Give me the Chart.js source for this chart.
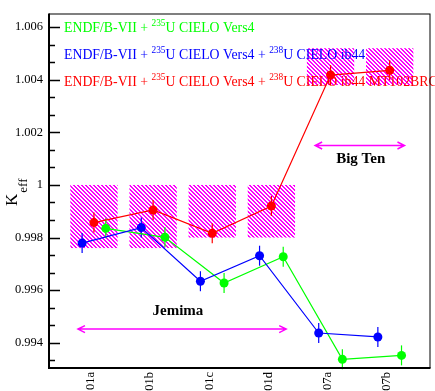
<!DOCTYPE html>
<html>
<head>
<meta charset="utf-8">
<script src="https://cdn.jsdelivr.net/npm/chart.js@4.4.1/dist/chart.umd.min.js"></script>
<style>
  html, body { margin: 0; padding: 0; background: #fff; }
  #keff { display: block; }
</style>
</head>
<body>
<canvas id="keff" width="435" height="391"></canvas>
<script>
// benchmark cases and calculated k-eff for the three libraries
var categories = ['01a', '01b', '01c', '01d', '07a', '07b'];
var keff_blue = [0.99779, 0.99838, 0.99634, 0.99731, 0.99437, 0.99422];
var keff_red = [0.99857, 0.99905, 0.99816, 0.99920, 1.00418, 1.00436];
var keff_green = [0.99835, 0.99801, 0.99627, 0.99727, 0.99337, 0.99352];
var keff_err = [0.00038, 0.00038, 0.00038, 0.00038, 0.00038, 0.00038];

// experimental benchmark bands
var bench_lo = [0.9976, 0.9976, 0.9980, 0.9980, 1.0038, 1.0038];
var bench_hi = [1.0000, 1.0000, 1.0000, 1.0000, 1.0052, 1.0052];

var y_ticks = [0.994, 0.996, 0.998, 1.000, 1.002, 1.004, 1.006];
var y_tick_labels = ['0.994', '0.996', '0.998', '1', '1.002', '1.004', '1.006'];

var legend_green = 'ENDF/B-VII + ^{235}U CIELO Vers4';
var legend_blue = 'ENDF/B-VII + ^{235}U CIELO Vers4 + ^{238}U CIELO ib44';
var legend_red = 'ENDF/B-VII + ^{235}U CIELO Vers4 + ^{238}U CIELO ib44 MT102BRC';

var serif = '"Liberation Serif", "DejaVu Serif", serif';
var clr_blue = '#0000ff';
var clr_red = '#ff0000';
var clr_green = '#00ff00';
var clr_band = '#ff00ff';

// series are drawn side by side around each benchmark slot
var series = [
  { label: legend_blue, data: keff_blue, color: clr_blue, shift: -0.15 },
  { label: legend_red, data: keff_red, color: clr_red, shift: 0.05 },
  { label: legend_green, data: keff_green, color: clr_green, shift: 0.25 }
];

function make_hatch(ctx) {
  var c = document.createElement('canvas');
  c.width = 4;
  c.height = 4;
  var g = c.getContext('2d');
  g.fillStyle = '#fff';
  g.fillRect(0, 0, 4, 4);
  g.fillStyle = clr_band;
  for (var y = 0; y < 4; y++) {
    for (var x = 0; x < 4; x++) {
      if ((((x - y) % 4) + 4) % 4 < 2) g.fillRect(x, y, 1, 1);
    }
  }
  return ctx.createPattern(c, 'repeat');
}

// text with ^{..} superscripts
function draw_rich(ctx, str, x, y, size, color) {
  var parts = str.split(/\^\{([^}]*)\}/);
  ctx.fillStyle = color;
  ctx.textBaseline = 'alphabetic';
  ctx.textAlign = 'left';
  for (var i = 0; i < parts.length; i++) {
    if (!parts[i]) continue;
    if (i % 2 == 1) {
      ctx.font = (size * 0.68) + 'px ' + serif;
      ctx.fillText(parts[i], x, y - size * 0.42);
    } else {
      ctx.font = size + 'px ' + serif;
      ctx.fillText(parts[i], x, y);
    }
    x += ctx.measureText(parts[i]).width;
  }
}

function draw_arrow(ctx, x1, x2, y, color) {
  ctx.save();
  ctx.strokeStyle = color;
  ctx.lineWidth = 1.5;
  ctx.beginPath();
  ctx.moveTo(x1, y);
  ctx.lineTo(x2, y);
  ctx.moveTo(x1 + 7, y - 3.5);
  ctx.lineTo(x1, y);
  ctx.lineTo(x1 + 7, y + 3.5);
  ctx.moveTo(x2 - 7, y - 3.5);
  ctx.lineTo(x2, y);
  ctx.lineTo(x2 - 7, y + 3.5);
  ctx.stroke();
  ctx.restore();
}

var underlay = {
  id: 'underlay',
  beforeDatasetsDraw: function(chart) {
    var ctx = chart.ctx;
    var xs = chart.scales.x;
    var ys = chart.scales.y;
    ctx.save();
    // hatched benchmark bands
    ctx.fillStyle = make_hatch(ctx);
    for (var i = 0; i < categories.length; i++) {
      var x0 = xs.getPixelForValue(i + 1 + 0.05 - 0.4);
      var x1 = xs.getPixelForValue(i + 1 + 0.05 + 0.4);
      var y0 = ys.getPixelForValue(bench_hi[i]);
      var y1 = ys.getPixelForValue(bench_lo[i]);
      ctx.fillRect(x0, y0, x1 - x0, y1 - y0);
    }
    // legend text
    var lx = chart.chartArea.left + 15;
    draw_rich(ctx, legend_green, lx, 32, 13.8, clr_green);
    draw_rich(ctx, legend_blue, lx, 59, 13.8, clr_blue);
    draw_rich(ctx, legend_red, lx, 86, 13.8, clr_red);
    // error bars
    ctx.lineWidth = 1.2;
    series.forEach(function(s) {
      ctx.strokeStyle = s.color;
      s.data.forEach(function(v, i) {
        var px = xs.getPixelForValue(i + 1 + s.shift);
        ctx.beginPath();
        ctx.moveTo(px, ys.getPixelForValue(v - keff_err[i]));
        ctx.lineTo(px, ys.getPixelForValue(v + keff_err[i]));
        ctx.stroke();
      });
    });
    ctx.restore();
  },
  afterDraw: function(chart) {
    var ctx = chart.ctx;
    var a = chart.chartArea;
    var xs = chart.scales.x;
    var ys = chart.scales.y;
    ctx.save();
    // frame
    ctx.strokeStyle = '#000';
    ctx.lineWidth = 1;
    ctx.strokeRect(a.left + 0.5, a.top + 0.5, a.right - a.left - 1, a.bottom - a.top - 1);
    ctx.lineWidth = 2;
    ctx.beginPath();
    ctx.moveTo(a.left, a.top);
    ctx.lineTo(a.left, a.bottom);
    ctx.lineTo(a.right, a.bottom);
    ctx.stroke();
    // inward y ticks, two minor ticks per major step
    var step = y_ticks[1] - y_ticks[0];
    ctx.lineWidth = 1.5;
    ctx.beginPath();
    for (var k = -1; k < y_ticks.length; k++) {
      for (var m = 0; m < 3; m++) {
        var v = (k < 0 ? y_ticks[0] - step : y_ticks[k]) + m * step / 3;
        if (v < ys.min || v > ys.max) continue;
        var py = Math.round(ys.getPixelForValue(v)) + 0.5;
        var len = m == 0 ? 11 : 6;
        ctx.moveTo(a.left, py);
        ctx.lineTo(a.left + len, py);
      }
    }
    ctx.stroke();
    // Jemima / Big Ten ranges
    draw_arrow(ctx, xs.getPixelForValue(0.78), xs.getPixelForValue(4.3), ys.getPixelForValue(0.99452), clr_band);
    draw_arrow(ctx, xs.getPixelForValue(4.79), xs.getPixelForValue(6.3), ys.getPixelForValue(1.0015), clr_band);
    ctx.fillStyle = '#000';
    ctx.font = 'bold 15px ' + serif;
    ctx.textAlign = 'center';
    ctx.textBaseline = 'alphabetic';
    ctx.fillText('Jemima', xs.getPixelForValue(2.47), ys.getPixelForValue(0.99506));
    ctx.fillText('Big Ten', xs.getPixelForValue(5.56), ys.getPixelForValue(1.00085));
    // y axis title K_eff
    ctx.translate(17, 206);
    ctx.rotate(-Math.PI / 2);
    ctx.textAlign = 'left';
    ctx.font = '17px ' + serif;
    ctx.fillText('K', 0, 0);
    var kw = ctx.measureText('K').width;
    ctx.font = '13px ' + serif;
    ctx.fillText('eff', kw + 1, 10);
    ctx.restore();
  }
};

var tick_font = { family: serif, size: 12.5 };

new Chart(document.getElementById('keff'), {
  type: 'scatter',
  data: {
    datasets: series.map(function(s) {
      return {
        label: s.label,
        data: s.data.map(function(v, i) { return { x: i + 1 + s.shift, y: v }; }),
        showLine: true,
        borderColor: s.color,
        backgroundColor: s.color,
        borderWidth: 1.2,
        pointRadius: 4.5,
        pointBorderWidth: 0,
        pointHoverRadius: 4.5
      };
    })
  },
  options: {
    responsive: false,
    animation: false,
    devicePixelRatio: 1,
    layout: { padding: { top: 5, right: 2, left: 0, bottom: 0 } },
    plugins: {
      legend: { display: false },
      tooltip: { enabled: false }
    },
    scales: {
      x: {
        type: 'linear',
        min: 0.29,
        max: 6.74,
        afterBuildTicks: function(scale) {
          scale.ticks = categories.map(function(c, i) { return { value: i + 1 }; });
        },
        afterFit: function(scale) { scale.height = 23; },
        grid: { display: false, drawTicks: false },
        border: { display: false },
        ticks: {
          autoSkip: false,
          minRotation: 90,
          maxRotation: 90,
          padding: 4,
          color: '#000',
          font: tick_font,
          callback: function(v) { return categories[Math.round(v) - 1]; }
        }
      },
      y: {
        min: 0.99304,
        max: 1.00652,
        afterBuildTicks: function(scale) {
          scale.ticks = y_ticks.map(function(v) { return { value: v }; });
        },
        afterFit: function(scale) { scale.width = 49; },
        grid: { display: false, drawTicks: false },
        border: { display: false },
        ticks: {
          padding: 6,
          color: '#000',
          font: tick_font,
          callback: function(v, i) { return y_tick_labels[i]; }
        }
      }
    }
  },
  plugins: [underlay]
});
</script>
</body>
</html>
